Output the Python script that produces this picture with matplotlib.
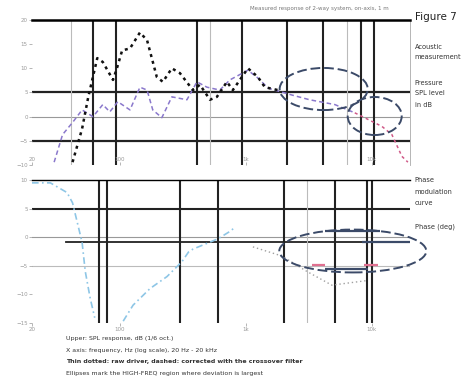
import matplotlib
matplotlib.use("Agg")
import matplotlib.pyplot as plt
from matplotlib.patches import Ellipse

# SPL curves (Hz, dB)
raw_freq = [42, 50, 56, 66, 73, 88, 95, 104, 120, 144, 164, 196, 219, 258, 299,
            379, 431, 518, 588, 706, 787, 1036, 1244, 1413, 1792]
raw_db = [-9.4, -2.5, 4.1, 12.1, 11.3, 7.6, 10.2, 13.7, 14.1, 17.4, 15.8, 8.2,
          7.2, 10.0, 9.0, 5.5, 6.6, 3.5, 4.1, 7.2, 5.5, 10.0, 8.2, 6.1, 5.5]

eq_freq = [30, 35, 42, 50, 61, 73, 83, 96, 120, 144, 164, 182, 215, 258, 340,
           408, 490, 620, 745, 1036, 1244, 1500, 2300, 3200, 5080, 7310]
eq_db = [-9.4, -3.7, -1.2, 1.4, 0.0, 2.5, 1.0, 3.1, 1.4, 6.1, 5.5, 1.4, -0.2,
         4.1, 3.5, 7.2, 6.1, 5.5, 7.6, 9.6, 8.0, 5.9, 4.5, 3.5, 2.5, 0.8]

tail_freq = [7310, 12000, 14400, 17300, 19300]
tail_db = [0.8, -2.0, -3.7, -8.2, -9.4]

# phase deviation curves
ph_freq = [20, 28, 38, 42, 50, 53, 58, 63]
ph_val = [9.5, 9.5, 7.8, 6.0, -0.9, -6.0, -10.7, -14.1]
ph2_freq = [106, 127, 173, 236, 310, 350, 379, 598, 745, 816]
ph2_val = [-14.7, -11.9, -9.0, -6.9, -4.3, -2.6, -2.1, -0.3, 1.0, 1.7]
gd_freq = [1135, 1928, 3047, 4805, 9117]
gd_val = [-1.7, -3.3, -6.0, -8.4, -7.6]

# marker segments inside the phase ellipse: (value, f_start, f_end)
blue_marks = [(1.0, 4230, 11560), (-0.9, 8310, 20000), (-5.5, 4230, 9290)]
pink_marks = [(-4.8, 3335, 4230), (-4.8, 8700, 11140)]

# vertical resonance markers: (freq, thick)
top_vlines = [(41, False), (61, True), (93, True), (408, True), (518, False),
              (929, True), (2113, True), (4080, True), (6300, False),
              (8170, True), (10350, True)]
bot_vlines = [(68, True), (79, True), (299, True), (598, True), (2000, True),
              (3050, False), (5080, True), (9120, True), (9990, True)]

top_yticks = [20, 15, 10, 5, 0, -5, -10]
bot_yticks = [10, 5, 0, -5, -10, -15]
xticks = [20, 100, 1000, 10000]
xlabels = ["20", "100", "1k", "10k"]

fig = plt.figure(figsize=(4.7, 3.83), dpi=100)
ax1 = fig.add_axes([0.068, 0.569, 0.804, 0.379])
ax2 = fig.add_axes([0.068, 0.157, 0.804, 0.373])

for ax in (ax1, ax2):
    ax.set_xscale("log")
    ax.set_xlim(20, 20000)
    ax.set_xticks(xticks)
    ax.set_xticklabels(xlabels)
    ax.minorticks_off()
    ax.tick_params(labelsize=4, colors="#999999", length=2, width=0.5, pad=1)
    for s in ("left", "bottom", "right"):
        ax.spines[s].set_visible(False)

# upper panel
ax1.set_ylim(-10, 20)
ax1.set_yticks(top_yticks)
ax1.spines["top"].set_linewidth(1.8)
ax1.spines["right"].set_visible(True)
ax1.spines["right"].set_color("#aaaaaa")
ax1.spines["right"].set_linewidth(0.6)
ax1.tick_params(axis="x", direction="in", pad=-6)
for y, lw, c in [(5, 1.6, "#222222"), (0, 0.8, "#999999"), (-5, 1.6, "#222222")]:
    ax1.axhline(y, color=c, lw=lw, zorder=1)
for f, thick in top_vlines:
    ax1.axvline(f, color="#222222" if thick else "#bbbbbb",
                lw=1.5 if thick else 0.8, zorder=1)

ax1.plot(eq_freq, eq_db, color="#8a78cc", lw=1.1, ls=(0, (3, 2)), zorder=3)
ax1.plot(tail_freq, tail_db, color="#d05a88", lw=1.1, ls=(0, (2, 2)), zorder=3)
ax1.plot(raw_freq, raw_db, color="#111111", lw=1.8, ls=(0, (1.2, 1.6)), zorder=4)

for cx, cy, w, h in [(0.772, 0.524, 0.233, 0.29), (0.907, 0.338, 0.143, 0.262)]:
    ax1.add_patch(Ellipse((cx, cy), w, h, transform=ax1.transAxes, fill=False,
                          ec="#3b4a68", lw=1.4, ls=(0, (5, 2)), zorder=5,
                          clip_on=False))

# lower panel
ax2.set_ylim(-14.8, 10)
ax2.set_yticks(bot_yticks)
ax2.spines["top"].set_linewidth(1.0)
ax2.axhline(5, color="#222222", lw=1.5, zorder=1)
ax2.axhline(0, color="#999999", lw=0.8, zorder=1)
ax2.axhline(-0.9, xmin=0.09, color="#222222", lw=1.3, zorder=1)
ax2.axhline(-5, color="#bbbbbb", lw=0.8, zorder=1)
for f, thick in bot_vlines:
    ax2.axvline(f, color="#222222" if thick else "#bbbbbb",
                lw=1.5 if thick else 0.8, zorder=1)

ax2.plot(ph_freq, ph_val, color="#8ec6e6", lw=1.2, ls=(0, (4, 2, 1, 2)), zorder=3)
ax2.plot(ph2_freq, ph2_val, color="#8ec6e6", lw=1.2, ls=(0, (4, 2, 1, 2)), zorder=3)
ax2.plot(gd_freq, gd_val, color="#a0a0a0", lw=1.0, ls=(0, (1, 2)), zorder=3)
for v, f0, f1 in blue_marks:
    ax2.hlines(v, f0, f1, color="#3b4a68", lw=1.6, zorder=4)
for v, f0, f1 in pink_marks:
    ax2.hlines(v, f0, f1, color="#e07090", lw=1.6, zorder=4)
ax2.add_patch(Ellipse((0.849, 0.503), 0.389, 0.30, transform=ax2.transAxes,
                      fill=False, ec="#3b4a68", lw=1.4, ls=(0, (5, 2)),
                      zorder=5, clip_on=False))

# captions
fig.text(0.68, 0.978, "Measured response of 2-way system, on-axis, 1 m",
         fontsize=4, color="#777777", ha="center", va="center")
fig.text(0.882, 0.955, "Figure 7", fontsize=7.5, color="#222222", va="center")
side = [(0.877, "Acoustic"), (0.851, "measurement"),
        (0.783, "Pressure"), (0.757, "SPL level"), (0.727, "in dB"),
        (0.530, "Phase"), (0.499, "modulation"), (0.470, "curve"),
        (0.407, "Phase (deg)")]
for y, s in side:
    fig.text(0.882, y, s, fontsize=4.8, color="#333333", va="center")

notes = ["Upper: SPL response, dB (1/6 oct.)",
         "X axis: frequency, Hz (log scale), 20 Hz - 20 kHz",
         "Thin dotted: raw driver, dashed: corrected with the crossover filter",
         "Ellipses mark the HIGH-FREQ region where deviation is largest"]
for i, s in enumerate(notes):
    fig.text(0.14, 0.117 - i * 0.031, s, fontsize=4.5, color="#333333",
             va="center", fontweight="bold" if i == 2 else "normal")

fig.savefig("out.png", dpi=100)
